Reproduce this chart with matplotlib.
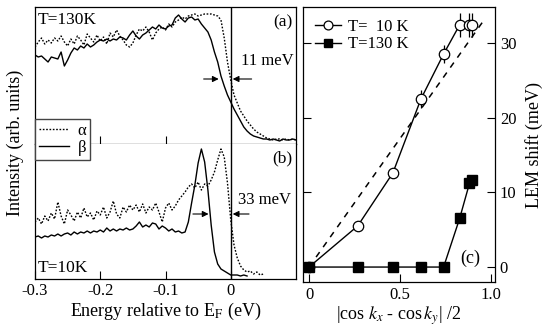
import numpy as np
import matplotlib
matplotlib.use('Agg')
import matplotlib.pyplot as plt

plt.rcParams['font.family'] = ['Liberation Serif', 'DejaVu Serif']
plt.rcParams['mathtext.fontset'] = 'stix'
plt.rcParams['axes.unicode_minus'] = False
plt.rcParams['font.size'] = 12

# energy grid of the spectra (eV), 5 meV steps
energy = np.linspace(-0.3, 0.1, 81)

# panel (a), T=130K
beta_130 = [89, 87, 88, 85, 82, 87, 86, 85, 92, 78,
            84, 91, 96, 94, 98, 96, 100, 97, 99, 102,
            104, 103, 105, 103, 105, 104, 107, 106, 104, 109,
            113, 108, 105, 109, 111, 114, 117, 115, 119, 116,
            115, 118, 119, 126, 129, 125, 122, 126, 127, 124,
            125, 120, 116, 112, 104, 92, 82, 68, 58, 49,
            42, 35, 29, 23, 17, 13, 10, 8, 7, 6,
            5, 5, 4, 5, 4, 3, 5, 4, 4, 5, 4]
alpha_130 = [97, 102, 106, 100, 104, 101, 106, 103, 108, 102,
             98, 105, 100, 108, 104, 99, 110, 106, 102, 109,
             103, 107, 100, 111, 107, 114, 108, 104, 99, 97,
             101, 109, 115, 113, 117, 112, 104, 111, 115, 117,
             114, 120, 117, 122, 124, 127, 125, 128, 129, 130,
             128, 129, 130, 130, 130, 129, 128, 124, 106, 82,
             64, 49, 41, 33, 28, 23, 19, 15, 12, 10,
             8, 6, 5, 4, 5, 5, 4, 5, 4, 5, 4]

# panel (b), T=10K
beta_10 = [42, 43, 41, 43, 42, 44, 43, 45, 43, 45,
           46, 44, 47, 45, 47, 46, 48, 46, 48, 47,
           49, 47, 51, 48, 50, 48, 50, 49, 51, 49,
           50, 53, 57, 52, 54, 52, 56, 55, 50, 53,
           51, 48, 50, 47, 48, 46, 47, 57, 76, 94,
           116, 130, 117, 89, 54, 27, 15, 10, 8, 6,
           4, 4, 4, 3, 4, 3]
alpha_10 = [57, 61, 55, 63, 58, 66, 60, 77, 63, 55,
            69, 64, 58, 67, 61, 71, 62, 66, 59, 68,
            64, 72, 61, 67, 78, 65, 61, 72, 67, 74,
            69, 74, 67, 75, 66, 72, 69, 76, 67, 57,
            71, 76, 69, 73, 79, 83, 87, 92, 95, 91,
            97, 89, 95, 93, 99, 107, 119, 130, 122, 96,
            59, 34, 21, 13, 9, 7, 8, 5, 7, 4, 5]

# panel (c)
k10 = [0, 0.267, 0.46, 0.614, 0.738, 0.826, 0.88, 0.892]
shift10 = [0, 5.5, 12.6, 22.5, 28.5, 32.4, 32.4, 32.4]
err10 = [0, 0, 0, 1.2, 1.2, 1.6, 1.6, 1.6]
k130 = [0, 0.267, 0.46, 0.614, 0.738, 0.826, 0.88, 0.894]
shift130 = [0, 0, 0, 0, 0, 6.5, 11.2, 11.6]
fit_k = [0, 0.958]
fit_shift = [0, 33.0]

fig = plt.figure(figsize=(5.48, 3.29), dpi=100)
W, H = 548, 329


def box(x0, y0, x1, y1):
    return [x0 / W, 1 - y1 / H, (x1 - x0) / W, (y1 - y0) / H]


def arrow(ax, tip, tail, y):
    ax.annotate('', xy=(tip, y), xytext=(tail, y),
                arrowprops=dict(arrowstyle='-|>', color='black', lw=0.8,
                                mutation_scale=9, shrinkA=0, shrinkB=0))


ax_a = fig.add_axes(box(35, 7, 296, 144))
ax_b = fig.add_axes(box(35, 144, 296, 279))
ax_c = fig.add_axes(box(303, 7, 495, 282))

# --- (a)
ax_a.plot(energy, alpha_130, color='black', lw=1.0, ls=(0, (1.2, 1.2)), label='α')
ax_a.plot(energy, beta_130, color='black', lw=1.0, label='β')
ax_a.set_ylim(0, 137)
ax_a.text(0.012, 0.905, 'T=130K', transform=ax_a.transAxes, va='center', ha='left',
          fontsize=12.5)
ax_a.text(0.985, 0.89, '(a)', transform=ax_a.transAxes, va='center', ha='right',
          fontsize=12.5)
arrow(ax_a, -0.0185, -0.0415, 65)
arrow(ax_a, 0.003, 0.032, 65)
ax_a.text(0.0154, 83, '11 meV', va='center', ha='left')

# --- (b)
ax_b.plot(energy[:len(alpha_10)], alpha_10, color='black', lw=1.0, ls=(0, (1.2, 1.2)))
ax_b.plot(energy[:len(beta_10)], beta_10, color='black', lw=1.0)
ax_b.set_ylim(0, 135)
ax_b.text(0.012, 0.081, 'T=10K', transform=ax_b.transAxes, va='center', ha='left',
          fontsize=12.5)
ax_b.text(0.985, 0.896, '(b)', transform=ax_b.transAxes, va='center', ha='right',
          fontsize=12.5)
arrow(ax_b, -0.034, -0.058, 65)
arrow(ax_b, 0.003, 0.028, 65)
ax_b.text(0.011, 79, '33 meV', va='center', ha='left')

for ax in (ax_a, ax_b):
    ax.set_xlim(-0.3, 0.1)
    ax.axvline(0, color='black', lw=1.0)
    ax.set_yticks([])
    ax.set_xticks([-0.2, -0.1])
    ax.tick_params(axis='x', direction='in', length=6, width=0.8, top=False)
    for s in ax.spines.values():
        s.set_linewidth(0.9)

ax_a.tick_params(axis='x', labelbottom=False)
ax_b.spines['top'].set_visible(False)
ax_b.set_xticks([-0.3, -0.2, -0.1, 0])
ax_b.set_xticklabels(['-0.3', '-0.2', '-0.1', '0'])
ax_b.tick_params(axis='x', pad=3)
ax_b.set_xlabel(r'Energy relative to E$_\mathrm{F}$ (eV)', labelpad=1, fontsize=13)
fig.text(15 / W, 1 - 143 / H, 'Intensity (arb. units)', rotation=90,
         va='center', ha='center', fontsize=13)

fig.legend(loc='lower left', bbox_to_anchor=(35 / W, 1 - 160 / H),
           bbox_transform=fig.transFigure, borderaxespad=0, fancybox=False,
           edgecolor='#444444', framealpha=1, handlelength=1.8,
           handletextpad=0.5, borderpad=0.25, labelspacing=0.05)

# --- (c)
ax_c.plot(fit_k, fit_shift, color='black', lw=1.1, ls=(0, (4, 4)))
ax_c.errorbar(k10, shift10, yerr=err10, fmt='none', ecolor='black',
              elinewidth=0.9, capsize=0)
h10, = ax_c.plot(k10, shift10, color='black', lw=1.0, marker='o',
                 mfc='white', mec='black', ms=7.5, mew=0.9, label='T=  10 K')
h130, = ax_c.plot(k130, shift130, color='black', lw=1.0, marker='s', ms=7,
                  mfc='black', mec='black', label='T=130 K')
ax_c.set_xlim(-0.033, 1.02)
ax_c.set_ylim(-2, 34.8)
ax_c.set_xticks([0, 0.5, 1.0])
ax_c.set_xticklabels(['0', '0.5', '1.0'])
ax_c.set_yticks([0, 10, 20, 30])
ax_c.tick_params(axis='both', direction='in', length=6, width=0.8,
                 left=True, right=True, labelleft=False, labelright=True)
ax_c.yaxis.set_label_position('right')
ax_c.set_ylabel('LEM shift (meV)', labelpad=6, fontsize=13)
ax_c.set_xlabel(r'|cos $k_x$ - cos$\,k_y$| /2', labelpad=1, fontsize=13)
ax_c.text(0.87, 0.087, '(c)', transform=ax_c.transAxes, va='center', ha='center',
          fontsize=13)
for s in ax_c.spines.values():
    s.set_linewidth(0.9)
ax_c.legend(handles=[h10, h130], loc='upper left', frameon=False,
            handlelength=1.6, handletextpad=0.4, borderaxespad=0.3,
            labelspacing=0.1, markerscale=0.85)

fig.savefig('out.png', dpi=100)
